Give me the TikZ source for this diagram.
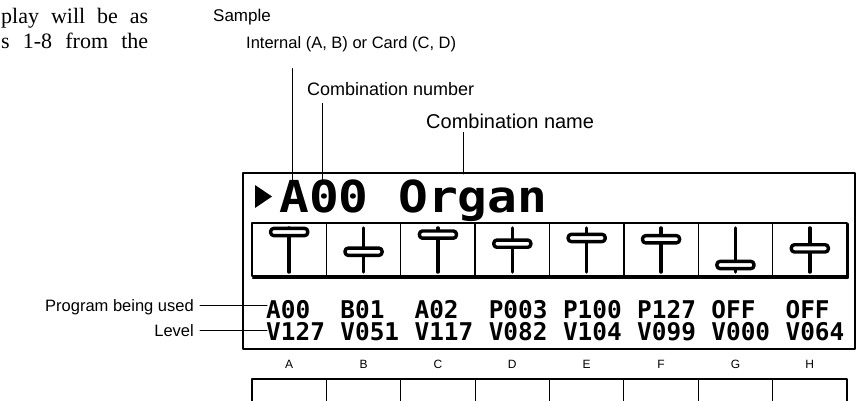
\documentclass[tikz,border=0pt]{standalone}
\usepackage{fontspec}
\usepackage{graphicx}
\setmainfont{Liberation Serif}
\setsansfont{Liberation Sans}
\newfontfamily\lcdfont{DejaVu Sans Mono}

\tikzset{
  callout/.style={font=\sffamily\fontsize{16.5}{18}\selectfont,inner sep=0pt,anchor=base west},
  lead/.style={line width=1pt},
  lcdbig/.style={font=\lcdfont\bfseries\fontsize{49.5}{50}\selectfont,inner sep=0pt,anchor=base west},
  lcdsmall/.style={font=\lcdfont\bfseries\fontsize{24.4}{26}\selectfont,inner sep=0pt,anchor=base west},
  keylabel/.style={font=\sffamily\fontsize{12}{13}\selectfont,inner sep=0pt},
  bodytext/.style={font=\rmfamily\fontsize{22}{24}\selectfont,inner sep=0pt,anchor=base west}
}

\begin{document}
\begin{tikzpicture}[line cap=round,line join=round,x=1pt,y=-1pt]
\useasboundingbox (0,0) rectangle (863,401);
% running text of the page
\node[bodytext] (txtA) at (1,24) {\makebox[147pt][s]{play will be as}};
\node[bodytext] (txtB) at (1,49) {\makebox[147pt][s]{s 1-8 from the}};
% callouts
\node[callout,font=\sffamily\fontsize{17}{18}\selectfont] (lblSample) at (213,22) {Sample};
\node[callout] (lblInternal) at (246,49) {Internal (A, B) or Card (C, D)};
\node[callout,font=\sffamily\fontsize{18}{20}\selectfont] (lblCombNum) at (307,96) {Combination number};
\node[callout,font=\sffamily\fontsize{20}{22}\selectfont] (lblCombName) at (426,129) {Combination name};
\node[callout,anchor=base east] (lblProgram) at (194,311) {Program being used};
\node[callout,anchor=base east] (lblLevel) at (194,336) {Level};
\coordinate (tipInt) at (292,180);
\coordinate (tipNum) at (322,180);
\coordinate (tipName) at (463,174);
\coordinate (tipProg) at (267,305);
\coordinate (tipLev) at (267,330);
\draw[lead] (lblInternal.south -| tipInt) ++(0,16) -- (tipInt);
\draw[lead] (lblCombNum.south -| tipNum) ++(0,7) -- (tipNum);
\draw[lead] (lblCombName.south -| tipName) ++(0,3) -- (tipName);
\draw[lead] (lblProgram.east |- tipProg) ++(6,0) -- (tipProg);
\draw[lead] (lblLevel.east |- tipLev) ++(6,0) -- (tipLev);
% display
\draw[line width=1.6pt] (243,173) rectangle (855,349);
\fill (255,185) -- (272,196.5) -- (255,208) -- cycle;
\node[lcdbig] (lcdTitle) at (279,212) {\scalebox{1}[0.89]{A00 Organ}};
% slider row
\draw[line width=2.2pt] (252,223) rectangle (847,276);
\draw[line width=2.5pt] (253,278) -- (848,278) -- (848,224);
\foreach \i in {1,...,7}
  \draw[line width=1.3pt] (252+74.375*\i,223) -- ++(0,53);
\foreach \lev [count=\i] in {127,51,117,82,104,99,0,64} {
  \pgfmathsetmacro\cx{252+74.375*(\i-0.5)}
  \pgfmathsetmacro\by{265-33*\lev/127}
  \draw[line width=3.5pt] (\cx,228) -- (\cx,272);
  \draw[line width=3.4pt,fill=white,rounded corners=3pt] (\cx-18.5,\by-3.6) rectangle (\cx+18.5,\by+3.6);
}
% program and level per channel
\foreach \prg/\lvl [count=\i] in {A00/V127,B01/V051,A02/V117,P003/V082,P100/V104,P127/V099,OFF/V000,OFF/V064} {
  \node[lcdsmall] (prg\i) at (266+74.2*\i-74.2,318) {\prg};
  \node[lcdsmall] (lvl\i) at (266+74.2*\i-74.2,340) {\lvl};
}
% keys below
\foreach \k [count=\i] in {A,B,C,D,E,F,G,H} {
  \node[keylabel] (key\k) at (252+74.375*\i-37.19,364) {\k};
}
\draw[line width=1.2pt] (252,410) -- (252,379) -- (847,379) -- (847,410);
\foreach \i in {1,...,7}
  \draw[line width=1.2pt] (252+74.375*\i,379) -- ++(0,31);
\end{tikzpicture}
\end{document}
